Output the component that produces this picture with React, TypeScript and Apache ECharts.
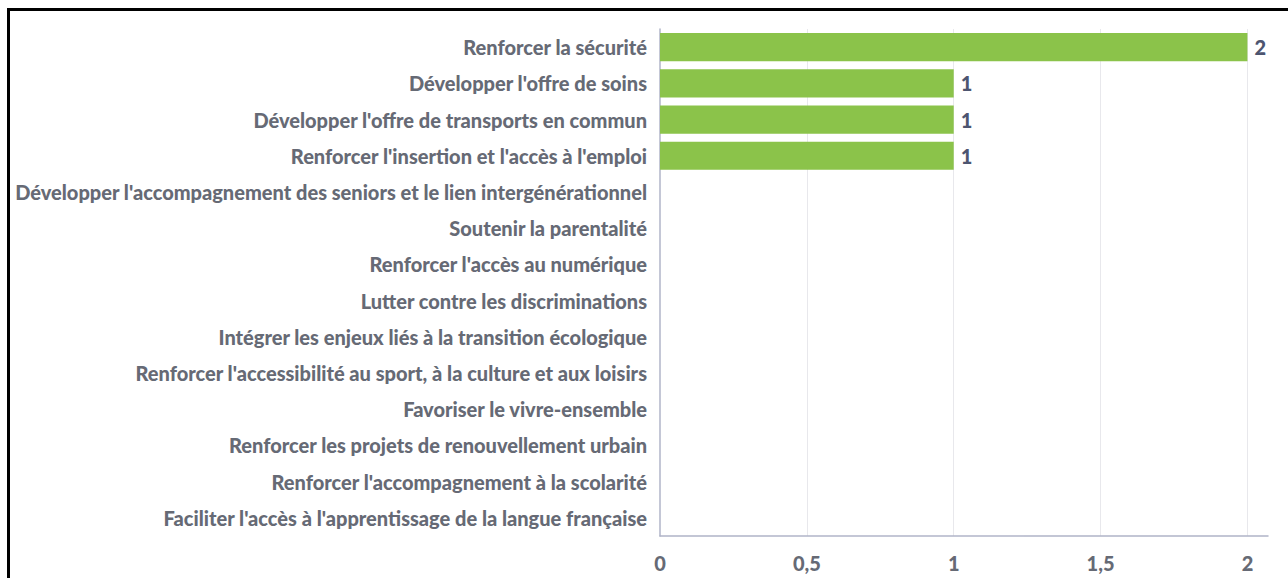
import React, { useEffect, useRef } from "react";
import * as echarts from "echarts";

const categories = [
  "Renforcer la sécurité",
  "Développer l'offre de soins",
  "Développer l'offre de transports en commun",
  "Renforcer l'insertion et l'accès à l'emploi",
  "Développer l'accompagnement des seniors et le lien intergénérationnel",
  "Soutenir la parentalité",
  "Renforcer l'accès au numérique",
  "Lutter contre les discriminations",
  "Intégrer les enjeux liés à la transition écologique",
  "Renforcer l'accessibilité au sport, à la culture et aux loisirs",
  "Favoriser le vivre-ensemble",
  "Renforcer les projets de renouvellement urbain",
  "Renforcer l'accompagnement à la scolarité",
  "Faciliter l'accès à l'apprentissage de la langue française",
];
const values = [2, 1, 1, 1, 0, 0, 0, 0, 0, 0, 0, 0, 0, 0];
const xTickStep = 0.5;

export default function App() {
  const ref = useRef<HTMLDivElement>(null);
  useEffect(() => {
    if (!ref.current) return;
    const chart = echarts.init(ref.current, null, { renderer: "svg" });
    chart.setOption({
      animation: false,
      textStyle: { fontFamily: "Lato" },
      grid: { left: 650, right: 26, top: 18, bottom: 49, outerBoundsMode: "none", containLabel: false },
      xAxis: {
        type: "value",
        min: 0,
        max: 2.07,
        interval: xTickStep,
        axisLine: { show: true, lineStyle: { color: "#b0b4c8", width: 1.5 } },
        axisTick: { show: false },
        splitLine: { show: true, showMinLine: false, showMaxLine: false, lineStyle: { color: "#e8e8ec" } },
        axisLabel: {
          showMaxLabel: false,
          margin: 17,
          color: "#666a75",
          fontSize: 20,
          fontWeight: 900,
          fontFamily: "Lato",
          formatter: (v: number) => String(v).replace(".", ","),
        },
      },
      yAxis: {
        type: "category",
        data: categories,
        inverse: true,
        axisLine: { show: true, lineStyle: { color: "#b0b4c8", width: 1.5 } },
        axisTick: { show: false },
        axisLabel: {
          margin: 13,
          color: "#666a75",
          fontSize: 20,
          fontWeight: 900,
          fontFamily: "Lato",
        },
      },
      series: [
        {
          type: "bar",
          data: values.map((v) => (v === 0 ? null : v)),
          barCategoryGap: "22%",
          itemStyle: { color: "#8bc34a" },
          label: {
            show: true,
            position: "right",
            distance: 7,
            color: "#4d5570",
            fontSize: 20,
            fontWeight: 900,
            fontFamily: "Lato",
          },
        },
      ],
    });
    return () => chart.dispose();
  }, []);
  return (
    <div
      style={{
        position: "fixed",
        left: 7,
        top: 8,
        width: 1290,
        height: 580,
        border: "3px solid #000",
        boxSizing: "border-box",
        background: "#fff",
      }}
    >
      <div ref={ref} style={{ width: 1284, height: 574 }} />
    </div>
  );
}
